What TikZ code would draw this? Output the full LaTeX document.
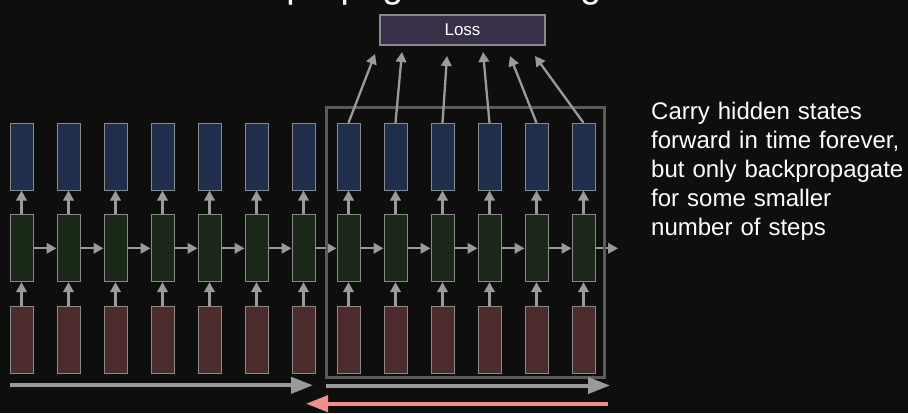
\documentclass[tikz,border=0pt]{standalone}
\usepackage{fontspec}
\setmainfont{Liberation Sans}
\usetikzlibrary{arrows.meta}
\definecolor{bgc}{HTML}{0E0E0E}
\definecolor{bluef}{HTML}{1F2E4A}
\definecolor{greenf}{HTML}{1A2817}
\definecolor{redf}{HTML}{4B2B2B}
\definecolor{cellborder}{HTML}{8A8A8A}
\definecolor{arrowc}{HTML}{9A9A9A}
\definecolor{framec}{HTML}{5A5A5A}
\definecolor{lossf}{HTML}{373048}
\definecolor{pinkc}{HTML}{F08F8A}
\tikzset{
  cell/.style={draw=cellborder, line width=1pt, minimum width=23pt, minimum height=66.7pt, inner sep=0pt},
  outcell/.style={cell, fill=bluef},
  hidcell/.style={cell, fill=greenf},
  incell/.style={cell, fill=redf},
  smallarr/.style={draw=arrowc, line width=2.3pt, -{Triangle[length=10pt,width=10.5pt]}},
  bigarr/.style={line width=4pt, -{Triangle[length=22pt,width=16pt]}},
}
\begin{document}
\begin{tikzpicture}[x=1pt,y=-1pt]
\fill[bgc] (0,0) rectangle (908,413);
\useasboundingbox (0,0) rectangle (908,413);
\begin{scope}
\clip (0,0) rectangle (908,413);
\node[anchor=base west, inner sep=0pt, text=white, font=\fontsize{37.5pt}{40pt}\selectfont] (title) at (25,-2.5) {Truncated Backpropagation through time};
\end{scope}
% columns
\foreach \i/\x in {1/10,2/57,3/104,4/151,5/198,6/245,7/292,8/337,9/384,10/431,11/478,12/525,13/572}{
  \node[outcell] (b\i) at (\x+11.5,156.7) {};
  \node[hidcell] (g\i) at (\x+11.5,248.3) {};
  \node[incell] (r\i) at (\x+11.5,340) {};
  \draw[smallarr] (r\i.north) -- (g\i.south);
  \draw[smallarr] (g\i.north) -- (b\i.south);
}
\foreach \i [evaluate=\i as \j using int(\i+1)] in {1,...,12}{
  \draw[smallarr] (g\i.east) -- (g\j.west);
}
\coordinate (hend) at (618,248.3);
\draw[smallarr] (g13.east) -- (hend);
% truncation frame
\node[draw=framec, line width=3pt, minimum width=278pt, minimum height=270pt, inner sep=0pt] (frame) at (465,242.2) {};
% loss
\node[draw=cellborder, line width=1.2pt, fill=lossf, minimum width=165pt, minimum height=30pt, inner sep=0pt, text=white, font=\fontsize{17pt}{20pt}\selectfont] (loss) at (462.5,30) {Loss};
\coordinate (t8) at (375,54);
\coordinate (t9) at (402,52);
\coordinate (t10) at (447,56);
\coordinate (t11) at (483,52);
\coordinate (t12) at (510,56);
\coordinate (t13) at (535,56);
\foreach \i in {8,...,13}{
  \draw[smallarr] (b\i.north) -- (t\i);
}
% side text
\node[anchor=base west, inner sep=0pt, text=white, text width=260pt, align=left, font=\fontsize{24pt}{29pt}\selectfont] (note) at (651,119.5) {Carry hidden states\\forward in time forever,\\but only backpropagate\\for some smaller\\number of steps};
% time arrows
\coordinate (fa1s) at (10,385.3);
\coordinate (fa1e) at (313,385.3);
\coordinate (fa2s) at (326,385.5);
\coordinate (fa2e) at (610,385.5);
\coordinate (bas) at (608,403.7);
\coordinate (bae) at (306,403.7);
\draw[bigarr, draw=arrowc, fill=arrowc] (fa1s) -- (fa1e);
\draw[bigarr, draw=arrowc, fill=arrowc] (fa2s) -- (fa2e);
\draw[bigarr, draw=pinkc, fill=pinkc] (bas) -- (bae);
\end{tikzpicture}
\end{document}
